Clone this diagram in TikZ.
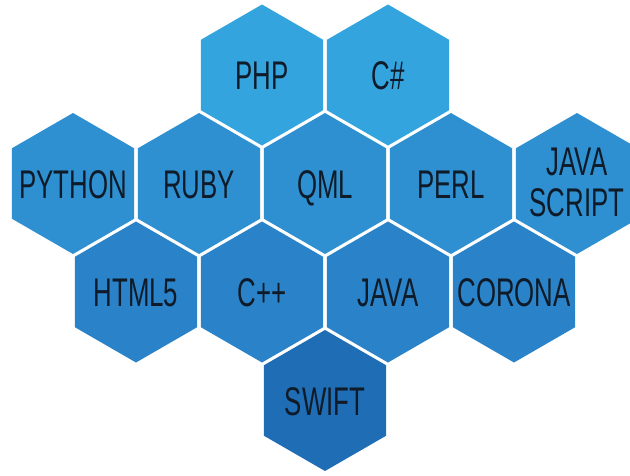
\documentclass[tikz,border=0pt]{standalone}
\usepackage{fontspec}
\setmainfont{Liberation Sans}[FakeStretch=0.645]
\definecolor{rowA}{HTML}{34A4DE}
\definecolor{rowB}{HTML}{2E90D1}
\definecolor{rowC}{HTML}{2A83C8}
\definecolor{rowD}{HTML}{1F6DB4}
\definecolor{ink}{HTML}{0F1B28}
\newcommand\hexcell[5]{%
  \fill[#4] (#2,#3) +(90:70.5) -- +(30:70.5) -- +(-30:70.5) -- +(-90:70.5) -- +(-150:70.5) -- +(150:70.5) -- cycle;
  \node[lbl] (#1) at (#2,#3+14.5) {#5};}
\begin{document}
\begin{tikzpicture}[x=1pt,y=-1pt,
  lbl/.style={font=\fontsize{40}{41}\selectfont, text=ink, inner sep=0pt, anchor=base}]
\useasboundingbox (0,0) rectangle (630,475);
% row 1
\hexcell{php}{262}{75}{rowA}{PHP}
\hexcell{cs}{388}{75}{rowA}{C\#}
% row 2
\hexcell{python}{73}{183.5}{rowB}{PYTHON}
\hexcell{ruby}{199}{183.5}{rowB}{RUBY}
\hexcell{qml}{325}{183.5}{rowB}{QML}
\hexcell{perl}{451}{183.5}{rowB}{PERL}
\fill[rowB] (577,183.5) +(90:70.5) -- +(30:70.5) -- +(-30:70.5) -- +(-90:70.5) -- +(-150:70.5) -- +(150:70.5) -- cycle;
\node[lbl, anchor=center, align=center] (js) at (577,182.5) {JAVA\\SCRIPT};
% row 3
\hexcell{html}{136}{292}{rowC}{HTML5}
\hexcell{cpp}{262}{292}{rowC}{C++}
\hexcell{java}{388}{292}{rowC}{JAVA}
\hexcell{corona}{514}{292}{rowC}{CORONA}
% row 4
\hexcell{swift}{325}{400.5}{rowD}{SWIFT}
\end{tikzpicture}
\end{document}
